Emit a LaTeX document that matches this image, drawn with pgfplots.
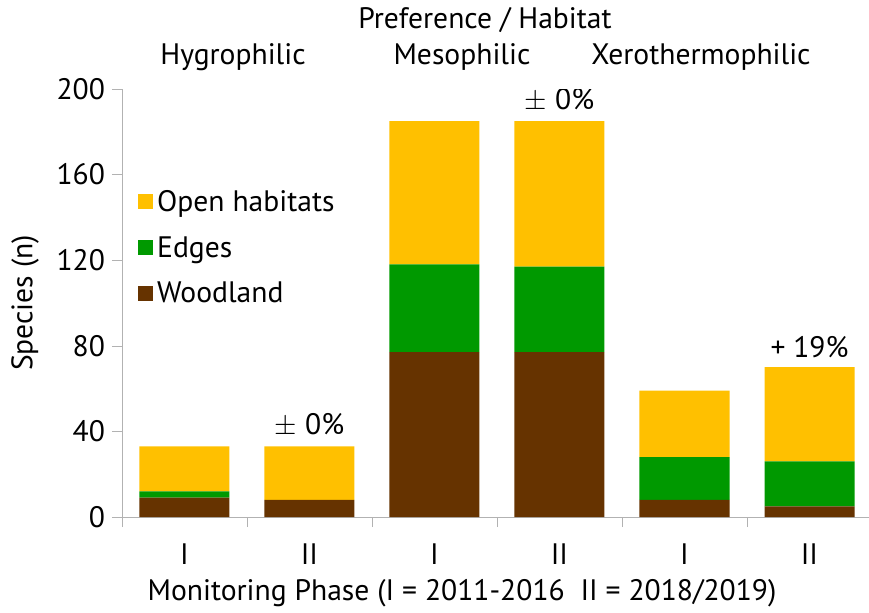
\documentclass[border=0pt]{standalone}
\usepackage{fontspec}
\setmainfont{PT Sans}
\usepackage{pgfplots}
\pgfplotsset{compat=1.18}
\definecolor{cOpen}{HTML}{FFC000}
\definecolor{cEdge}{HTML}{009900}
\definecolor{cWood}{HTML}{663300}
\begin{document}
\begin{tikzpicture}[font=\fontsize{14.8}{17}\selectfont]
\path[use as bounding box] (-61pt,-47.5pt) rectangle (373.5pt,258.5pt);
\begin{axis}[
  at={(0,0)}, anchor=south west,
  scale only axis, width=375pt, height=214pt,
  ybar stacked, bar width=45pt,
  xmin=-0.5, xmax=5.5, ymin=0, ymax=200,
  axis x line=bottom, axis y line=left,
  axis line style={draw=gray!60, -},
  xtick={-0.5,0.5,1.5,2.5,3.5,4.5,5.5},
  xticklabels={I,II,I,II,I,II},
  x tick label as interval,
  x tick style={draw=gray!60},
  tick align=outside,
  ytick={0,40,80,120,160,200},
  y tick style={draw=gray!60},
  major tick length=5pt,
  /pgf/number format/assume math mode=true,
  tick label style={font=\fontsize{14.8}{17}\selectfont},
  xticklabel style={yshift=-5pt},
  ylabel={Species (n)},
  xlabel={Monitoring Phase (I = 2011-2016\ \ II = 2018/2019)},
  every axis y label/.style={rotate=90, anchor=center, at={(-48.5pt,107pt)}},
  every axis x label/.style={at={(170pt,-38pt)}, anchor=center},
  legend style={at={(0.013,0.783)}, anchor=north west, draw=none, fill=none,
    font=\fontsize{14.8}{17}\selectfont, row sep=7pt},
  legend cell align=left,
  reverse legend,
  legend image code/.code={\fill[#1] (0pt,-3.5pt) rectangle (7.5pt,4pt);},
]
\addplot[fill=cWood, draw=none] coordinates {(0,9) (1,8) (2,77) (3,77) (4,8) (5,5)};
\addlegendentry{Woodland}
\addplot[fill=cEdge, draw=none] coordinates {(0,3) (1,0) (2,41) (3,40) (4,20) (5,21)};
\addlegendentry{Edges}
\addplot[fill=cOpen, draw=none] coordinates {(0,21) (1,25) (2,67) (3,68) (4,31) (5,44)};
\addlegendentry{Open habitats}
\node[anchor=south, yshift=1pt] at (axis cs:1,33) {$\pm$ 0\%};
\node[anchor=south, yshift=1pt] at (axis cs:3,185) {$\pm$ 0\%};
\node[anchor=south, yshift=1pt] at (axis cs:5,70) {+ 19\%};
\end{axis}
\node at (181.5pt,248.5pt) {Preference / Habitat};
\node at (55.5pt,230pt) {Hygrophilic};
\node at (170pt,230pt) {Mesophilic};
\node at (289.5pt,230pt) {Xerothermophilic};
\end{tikzpicture}
\end{document}
